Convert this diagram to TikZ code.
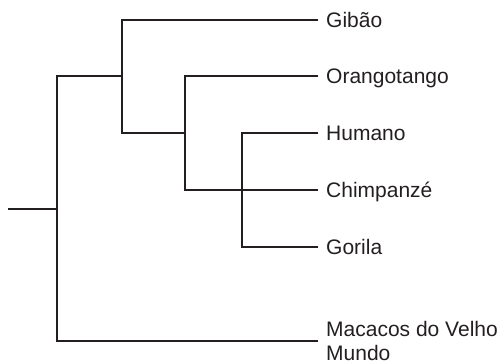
\documentclass[tikz,border=0pt]{standalone}
\usepackage{fontspec}
\setmainfont{Liberation Sans}
\usepackage{tikz}
\usetikzlibrary{positioning}
\definecolor{ink}{RGB}{35,31,32}
\tikzset{leaf/.style={inner sep=0pt, text height=15pt, text depth=0pt, text=ink, font=\fontsize{21}{21}\selectfont}}
\tikzset{branch/.style={draw=ink, line width=1.1pt}}

\begin{document}
\begin{tikzpicture}[x=1pt, y=-1pt]

        \useasboundingbox (0, 0) rectangle (502, 362);

        \coordinate (root) at (8, 209);
        \coordinate (n1) at (57, 209);
        \coordinate (n2) at (122, 76);
        \coordinate (n3) at (185, 133);
        \coordinate (n4) at (242, 190);

        \coordinate (tGibao) at (318, 20);
        \coordinate (tOrangotango) at (318, 76);
        \coordinate (tHumano) at (318, 133);
        \coordinate (tChimpanze) at (318, 190);
        \coordinate (tGorila) at (318, 247);
        \coordinate (tMacacos) at (318, 341);

        \node[leaf, right=8pt of tGibao] (Gibao) {Gibão};
        \node[leaf, right=8pt of tOrangotango] (Orangotango) {Orangotango};
        \node[leaf, right=8pt of tHumano] (Humano) {Humano};
        \node[leaf, right=8pt of tChimpanze] (Chimpanze) {Chimpanzé};
        \node[leaf, right=8pt of tGorila] (Gorila) {Gorila};
        \node[leaf, anchor=west] (Macacos) at ([xshift=8pt, yshift=11.8pt]tMacacos) {Macacos do Velho};
        \node[leaf, anchor=north west] (Mundo) at ([yshift=-8pt]Macacos.south west) {Mundo};

        \draw[branch] (root) -- (n1);
        \draw[branch] (n2) -| (n1) |- (tMacacos);
        \draw[branch] (tGibao) -| (n2) |- (n3);
        \draw[branch] (tOrangotango) -| (n3) |- (n4);
        \draw[branch] (tHumano) -| (n4) |- (tGorila);
        \draw[branch] (n4) -- (tChimpanze);

\end{tikzpicture}
\end{document}
